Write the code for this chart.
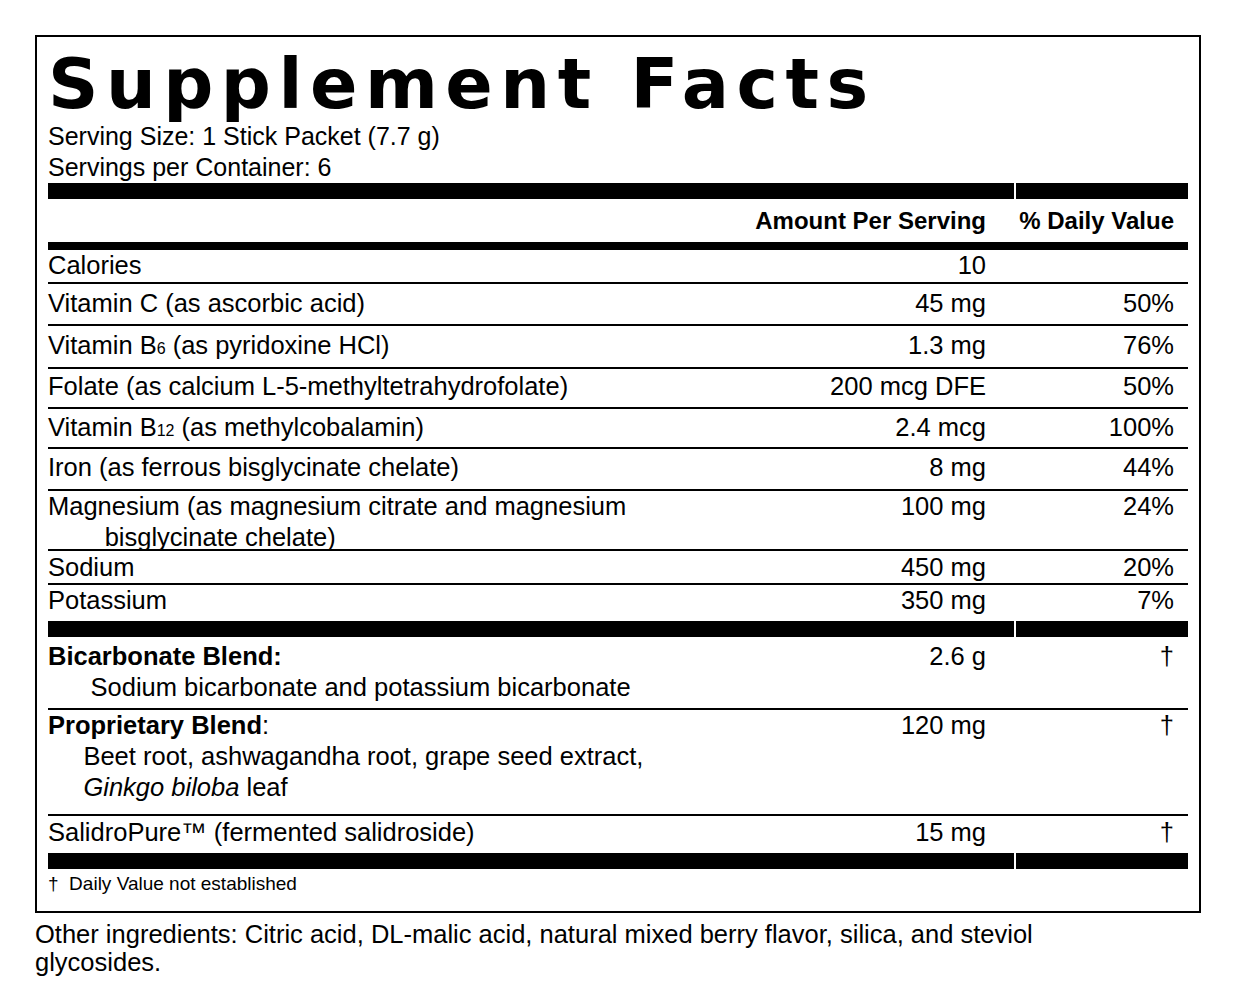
<!DOCTYPE html>
<html lang="en">
<head>
<meta charset="UTF-8">
<title>Supplement Facts</title>
<script src="https://cdn.jsdelivr.net/npm/chart.js"></script>
<style>
    body { margin: 0; background: #fff; font-family: 'Liberation Sans', Arial, sans-serif; color: #000; }
    .label {
        position: absolute; left: 35px; top: 35px; width: 1162px; height: 874px;
        border: 2px solid #000; box-sizing: content-box;
    }
    .inner { position: absolute; left: 11px; right: 11px; top: 0; }
    .title {
        font-weight: bold; font-size: 70px; letter-spacing: 7.5px; line-height: 1;
        margin-top: 12px; height: 64px; font-family: 'DejaVu Sans', sans-serif;
    }
    .serv { font-size: 25px; line-height: 31px; }
    .thick { height: 16px; background: #000; position: relative; }
    .thick::after { content: ''; position: absolute; left: 966px; width: 2px; top: 0; bottom: 0; background: #fff; }
    .rule8 { height: 8px; background: #000; }
    .row { display: flex; font-size: 25.5px; line-height: 31px; border-bottom: 2px solid #000; box-sizing: border-box; }
    .row.last { border-bottom: none; }
    .name { flex: 1; }
    .amt { width: 300px; text-align: right; }
    .dv { width: 202px; padding-right: 14px; box-sizing: border-box; text-align: right; }
    .hdr { font-weight: bold; font-size: 24px; align-items: center; border: none; }
    .foot { font-size: 19px; line-height: 30px; }
    .other { position: absolute; left: 35px; top: 920px; width: 1080px; font-size: 25.5px; line-height: 28px; }
    sub { font-size: 16px; vertical-align: baseline; }
</style>
</head>
<body>
<div class="label"><div class="inner" id="inner"></div></div>
<div class="other">Other ingredients: Citric acid, DL-malic acid, natural mixed berry flavor, silica, and steviol glycosides.</div>
<script>
const nutrients = [
    'Calories',
    'Vitamin C (as ascorbic acid)',
    'Vitamin B<sub>6</sub> (as pyridoxine HCl)',
    'Folate (as calcium L-5-methyltetrahydrofolate)',
    'Vitamin B<sub>12</sub> (as methylcobalamin)',
    'Iron (as ferrous bisglycinate chelate)',
    'Magnesium (as magnesium citrate and magnesium<br>&nbsp;&nbsp;&nbsp;&nbsp;&nbsp;&nbsp;&nbsp;&nbsp;bisglycinate chelate)',
    'Sodium',
    'Potassium'
];
const amounts = ['10', '45 mg', '1.3 mg', '200 mcg DFE', '2.4 mcg', '8 mg', '100 mg', '450 mg', '350 mg'];
const dailyValues = ['', '50%', '76%', '50%', '100%', '44%', '24%', '20%', '7%'];
const rowHeights = [34, 42, 43, 40, 40, 42, 60, 34, 36];
const rowPad = [0, 4, 4, 2, 3, 3, 0, 1, 0];

const blends = [
    '<b>Bicarbonate Blend:</b><br>&nbsp;&nbsp;&nbsp;&nbsp;&nbsp;&nbsp;Sodium bicarbonate and potassium bicarbonate',
    '<b>Proprietary Blend</b>:<br>&nbsp;&nbsp;&nbsp;&nbsp;&nbsp;Beet root, ashwagandha root, grape seed extract,<br>&nbsp;&nbsp;&nbsp;&nbsp;&nbsp;<i>Ginkgo biloba</i> leaf',
    'SalidroPure™ (fermented salidroside)'
];
const blendAmounts = ['2.6 g', '120 mg', '15 mg'];
const blendDV = ['†', '†', '†'];
const blendHeights = [73, 106, 37];
const blendPad = [4, 0, 1];

let html = '<div class="title">Supplement Facts</div>' +
    '<div class="serv" style="margin-top:8px">Serving Size: 1 Stick Packet (7.7 g)<br>Servings per Container: 6</div>' +
    '<div class="thick"></div>' +
    '<div class="row hdr" style="height:43px"><span class="name"></span><span class="amt">Amount Per Serving</span><span class="dv">% Daily Value</span></div>' +
    '<div class="rule8"></div>';
nutrients.forEach((n, i) => {
    html += `<div class="row${i === nutrients.length - 1 ? ' last' : ''}" style="height:${rowHeights[i]}px;padding-top:${rowPad[i]}px">` +
        `<span class="name">${n}</span><span class="amt">${amounts[i]}</span><span class="dv">${dailyValues[i]}</span></div>`;
});
html += '<div class="thick"></div>';
blends.forEach((b, i) => {
    html += `<div class="row${i === blends.length - 1 ? ' last' : ''}" style="height:${blendHeights[i]}px;padding-top:${blendPad[i]}px">` +
        `<span class="name">${b}</span><span class="amt">${blendAmounts[i]}</span><span class="dv">${blendDV[i]}</span></div>`;
});
html += '<div class="thick"></div><div class="foot">†&nbsp;&nbsp;Daily Value not established</div>';
document.getElementById('inner').innerHTML = html;
</script>
</body>
</html>
